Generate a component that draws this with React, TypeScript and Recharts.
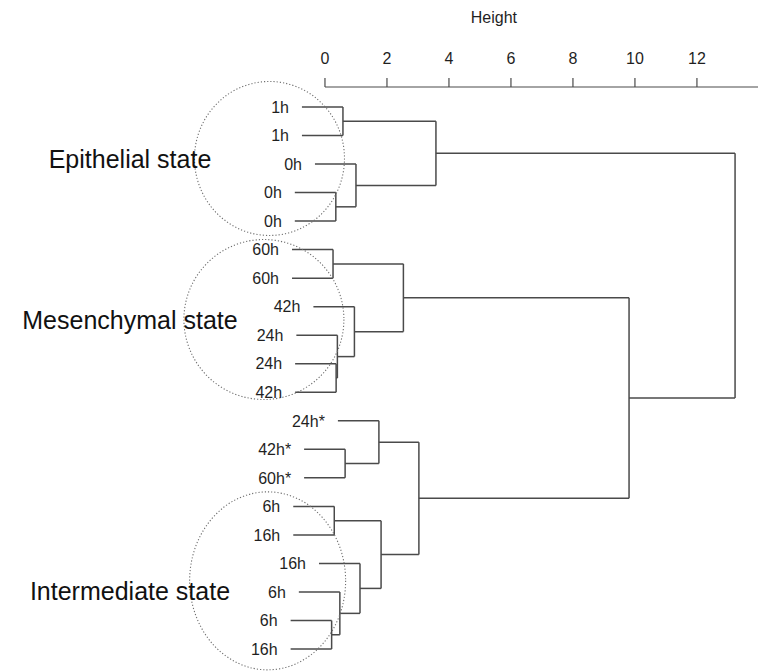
import {
  ReferenceDot,
  ReferenceLine,
  Scatter,
  ScatterChart,
  XAxis,
  YAxis
} from "recharts";

// leaves in plotting order, top to bottom
const leafLabels = [
  "1h", "1h", "0h", "0h", "0h",
  "60h", "60h", "42h", "24h", "24h", "42h",
  "24h*", "42h*", "60h*", "6h", "16h", "16h", "6h", "6h", "16h"
];

// hclust-style merges: negative = leaf number, positive = earlier merge
const mergeLeft = [-1, -4, -3, 1, -6, -10, -9, -8, 5, -13, -12, -15, -19, -18, -17, 12, 11, 9, 4];
const mergeRight = [-2, -5, 2, 3, -7, -11, 6, 7, 8, -14, 10, -16, -20, 13, 14, 15, 16, 17, 18];
const mergeHeights = [
  0.58, 0.35, 1.0, 3.58, 0.26, 0.36, 0.4, 0.95, 2.53, 0.65,
  1.74, 0.3, 0.215, 0.48, 1.13, 1.81, 3.03, 9.81, 13.23
];

const heightTicks = [0, 2, 4, 6, 8, 10, 12];

const stateNames = ["Epithelial state", "Mesenchymal state", "Intermediate state"];

const X_MIN = -10;
const X_MAX = 13.97;
const Y_MIN = 0.3;
const Y_MAX = 20.77;
const HANG = 0.1 * Math.max(...mergeHeights);

const LINE = "#4a4a4a";
const TEXT = "#1f1f1f";
const FONT = "Arial, 'Liberation Sans', sans-serif";

type Seg = { x1: number; y1: number; x2: number; y2: number };

function buildTree() {
  const nodes: { x: number; y: number }[] = [];
  const segs: Seg[] = [];
  const leafStart: number[] = new Array(leafLabels.length).fill(0);

  mergeHeights.forEach((h, i) => {
    const ys = [mergeLeft[i], mergeRight[i]].map((ref) => {
      if (ref < 0) {
        const y = -ref;
        leafStart[y - 1] = h - HANG;
        segs.push({ x1: h - HANG, y1: y, x2: h, y2: y });
        return y;
      }
      const child = nodes[ref - 1];
      segs.push({ x1: child.x, y1: child.y, x2: h, y2: child.y });
      return child.y;
    });
    segs.push({ x1: h, y1: ys[0], x2: h, y2: ys[1] });
    nodes.push({ x: h, y: (ys[0] + ys[1]) / 2 });
  });

  const leaves = leafLabels.map((label, i) => ({ x: leafStart[i], y: i + 1, label }));
  return { segs, leaves };
}

// where the dotted outline and caption of each state sit
const stateLayout = [
  { cx: -1.79, cy: 2.805, rx: 75, ry: 77, labelY: 2.84 },
  { cx: -1.97, cy: 8.45, rx: 80, ry: 80, labelY: 8.45 },
  { cx: -1.85, cy: 17.61, rx: 78, ry: 89, labelY: 17.96 }
];
const LABEL_X = -6.29;

export default function App() {
  const { segs, leaves } = buildTree();

  return (
    <div style={{ position: "absolute", left: 0, top: 0, background: "#fff" }}>
      <ScatterChart width={758} height={671} margin={{ top: 0, right: 0, bottom: 0, left: 15 }}>
        <XAxis
          type="number"
          dataKey="x"
          orientation="top"
          domain={[X_MIN, X_MAX]}
          allowDataOverflow
          ticks={heightTicks}
          height={87}
          axisLine={false}
          tickSize={9}
          tickMargin={14}
          tickLine={{ stroke: LINE, strokeWidth: 1.2 }}
          tick={{ fill: TEXT, fontSize: 16, fontFamily: FONT }}
          label={{
            value: "Height",
            content: (props: any) => {
              const vb = props.viewBox;
              const x = vb.x + ((5.45 - X_MIN) * vb.width) / (X_MAX - X_MIN);
              return (
                <text x={x} y={23} textAnchor="middle" fill={TEXT} fontSize={16} fontFamily={FONT}>
                  Height
                </text>
              );
            }
          }}
        />
        <YAxis type="number" dataKey="y" domain={[Y_MIN, Y_MAX]} allowDataOverflow reversed hide />

        <ReferenceLine
          segment={[{ x: 0, y: Y_MIN }, { x: X_MAX, y: Y_MIN }]}
          stroke={LINE}
          strokeWidth={1.2}
        />

        {stateLayout.map((g, i) => (
          <ReferenceDot
            key={`ring-${i}`}
            x={g.cx}
            y={g.cy}
            r={1}
            shape={(p: any) => (
              <ellipse
                cx={p.cx}
                cy={p.cy}
                rx={g.rx}
                ry={g.ry}
                fill="none"
                stroke="#6e6e6e"
                strokeWidth={1.1}
                strokeDasharray="1.2 2"
              />
            )}
          />
        ))}

        {stateNames.map((name, i) => (
          <ReferenceDot
            key={`state-${i}`}
            x={LABEL_X}
            y={stateLayout[i].labelY}
            r={1}
            shape={(p: any) => (
              <text
                x={p.cx}
                y={p.cy}
                dy="0.36em"
                textAnchor="middle"
                fill="#111"
                fontSize={25}
                fontFamily={FONT}
              >
                {name}
              </text>
            )}
          />
        ))}

        {segs.map((s, i) => (
          <ReferenceLine
            key={`seg-${i}`}
            segment={[{ x: s.x1, y: s.y1 }, { x: s.x2, y: s.y2 }]}
            stroke={LINE}
            strokeWidth={1.5}
          />
        ))}

        <Scatter
          data={leaves}
          isAnimationActive={false}
          shape={(p: any) => (
            <text
              x={p.cx - 13}
              y={p.cy}
              dy="0.36em"
              textAnchor="end"
              fill={TEXT}
              fontSize={16}
              fontFamily={FONT}
            >
              {p.payload.label}
            </text>
          )}
        />
      </ScatterChart>
    </div>
  );
}
